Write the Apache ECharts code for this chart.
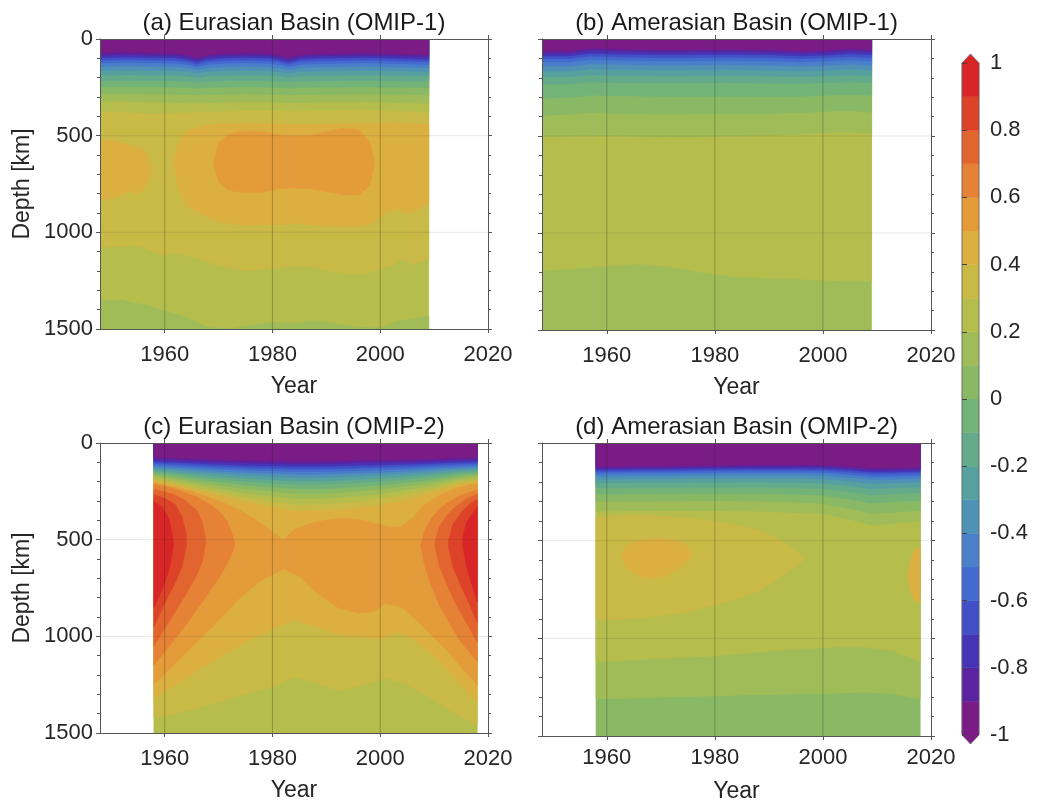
<!DOCTYPE html>
<html><head><meta charset="utf-8">
<script src="https://cdn.jsdelivr.net/npm/echarts@6/dist/echarts.min.js"></script>
<style>html,body{margin:0;padding:0;background:#fff;}#c{width:1037px;height:809px;}</style>
</head><body><div id="c"></div>
<script>
// ---------- colour scale: 20 bins of 0.1 from -1 to 1 ----------
const binColors = ['#7b1b86','#5b23a0','#4634b5','#4150c6','#4469cf','#4a80ca','#4f92b6','#57a0a0','#63ab8b','#74b378',
                   '#89b965','#a0bc58','#b5bd4d','#c9b946','#dbb041','#e49c3a','#e58235','#e2652f','#dd4329','#d82628'];
const cbTicks = [-1,-0.8,-0.6,-0.4,-0.2,0,0.2,0.4,0.6,0.8,1];
const yearTicks = [1960,1980,2000,2020];
const gridYears = [1960,1980,2000];
const gridDepths = [500,1000];
const titles = ['(a) Eurasian Basin (OMIP-1)','(b) Amerasian Basin (OMIP-1)','(c) Eurasian Basin (OMIP-2)','(d) Amerasian Basin (OMIP-2)'];

// ---------- panel a : isolines [level, [[year, depth]...]] and bands [value, [[year, top, bottom]...]] ----------
const aYears = [1948,1953,1958,1962,1964,1966,1968,1971,1975,1979,1981,1983,1985,1988,1992,1997,2001,2005,2009];
const aIsoDepths = [
 [-0.9,[72,69,72,75,82,98,82,75,72,75,82,98,82,77,75,72,75,79,82]],
 [-0.8,[84,82,84,87,94,109,94,87,84,87,94,109,94,89,87,84,87,90,94]],
 [-0.7,[96,94,96,98,105,119,105,98,96,98,105,119,105,101,98,96,98,102,105]],
 [-0.6,[109,107,109,111,117,130,117,111,109,111,117,130,117,113,111,109,111,114,117]],
 [-0.5,[124,122,124,126,132,143,132,126,124,126,132,143,132,128,126,124,126,129,132]],
 [-0.4,[142,140,142,144,148,158,148,144,142,144,148,158,148,145,144,142,144,146,148]],
 [-0.3,[163,162,163,164,168,176,168,164,163,164,168,176,168,166,164,163,164,166,168]],
 [-0.2,[187,186,187,188,191,198,191,188,187,188,191,198,191,189,188,187,188,190,191]],
 [-0.1,[215,214,215,216,219,224,219,216,215,216,219,224,219,217,216,215,216,217,219]],
 [0.0,[248,247,248,249,251,255,251,249,248,249,251,255,251,249,249,248,249,250,251]],
 [0.1,[285,284,285,286,287,290,287,286,285,286,287,290,287,286,286,285,286,286,287]],
 [0.2,[322,322,326,328,329,331,329,327,325,325,327,329,328,327,325,324,326,330,334]],
 [0.3,[372,378,385,380,379,378,376,373,368,368,370,372,371,370,368,366,370,374,380]]
];
const aBands = [
 [0.25,[[1948,0,1500],[2009,0,1500]]],
 [0.15,[[1948,1354,1500],[1952,1350,1500],[1956,1375,1500],[1960,1405,1500],[1964,1440,1500],[1968,1490,1500],[1972,1500,1500],[1976,1480,1500],[1980,1465,1500],[1984,1470,1500],[1988,1458,1500],[1992,1475,1500],[1996,1492,1500],[2000,1495,1500],[2003,1462,1500],[2006,1450,1500],[2009,1432,1500]]],
 [0.35,[[1948,0,1078],[1952,0,1072],[1955,0,1070],[1958,0,1100],[1960,0,1121],[1962,0,1105],[1966,0,1130],[1970,0,1173],[1975,0,1199],[1979,0,1190],[1982,0,1180],[1987,0,1173],[1990,0,1199],[1995,0,1216],[1998,0,1208],[2002,0,1173],[2004,0,1139],[2006,0,1165],[2009,0,1139]]],
 [0.45,[[1961.5,640,640],[1962.5,540,770],[1964,480,860],[1967,450,910],[1970,440,945],[1975,438,965],[1980,440,960],[1985,442,955],[1990,440,968],[1995,438,975],[1998,438,960],[2001,436,900],[2003,434,880],[2005,438,905],[2007,440,885],[2009,442,850]]],
 [0.45,[[1948,520,830],[1951,530,820],[1953,545,790],[1955,560,800],[1956.5,580,770],[1957.5,660,680]]],
 [0.55,[[1969,640,640],[1970,540,740],[1972,490,785],[1975,476,795],[1978,478,795],[1981,495,775],[1984,502,770],[1987,500,775],[1990,480,790],[1993,462,805],[1996,470,805],[1998,530,760],[1999,640,640]]]
];

// ---------- panel b ----------
const bIsolines = [
 [-0.9,[[1948,62],[1953,62],[1957,48],[1962,52],[1968,55],[1975,55],[1982,54],[1990,56],[1996,62],[2001,58],[2005,50],[2009,55]]],
 [-0.8,[[1948,74],[1953,74],[1957,60],[1962,64],[1968,67],[1975,67],[1982,66],[1990,68],[1996,74],[2001,70],[2005,62],[2009,67]]],
 [-0.7,[[1948,87],[1953,87],[1957,73],[1962,77],[1968,80],[1975,80],[1982,79],[1990,81],[1996,87],[2001,83],[2005,75],[2009,80]]],
 [-0.6,[[1948,101],[1953,101],[1957,88],[1962,92],[1968,95],[1975,95],[1982,94],[1990,96],[1996,101],[2001,97],[2005,90],[2009,95]]],
 [-0.5,[[1948,118],[1953,118],[1957,106],[1962,110],[1968,112],[1975,112],[1982,111],[1990,113],[1996,118],[2001,114],[2005,108],[2009,113]]],
 [-0.4,[[1948,140],[1953,140],[1957,128],[1962,132],[1968,134],[1975,134],[1982,133],[1990,135],[1996,139],[2001,136],[2005,130],[2009,135]]],
 [-0.3,[[1948,165],[1953,165],[1957,154],[1962,158],[1968,160],[1975,160],[1982,159],[1990,161],[1996,164],[2001,161],[2005,156],[2009,160]]],
 [-0.2,[[1948,195],[1953,195],[1957,185],[1962,188],[1968,190],[1975,190],[1982,189],[1990,191],[1996,193],[2001,190],[2005,186],[2009,190]]],
 [-0.1,[[1948,232],[1953,232],[1957,222],[1962,225],[1968,227],[1975,227],[1982,226],[1990,228],[1996,229],[2001,226],[2005,222],[2009,226]]],
 [0.0,[[1948,305],[1953,302],[1957,290],[1962,292],[1968,295],[1975,296],[1982,295],[1990,296],[1996,295],[2001,290],[2005,286],[2009,290]]],
 [0.1,[[1948,395],[1953,388],[1957,380],[1962,384],[1968,386],[1975,386],[1982,385],[1990,384],[1996,380],[2001,372],[2005,370],[2009,378]]],
 [0.2,[[1948,502],[1953,500],[1957,498],[1962,498],[1968,504],[1975,505],[1982,500],[1990,496],[1996,490],[2001,482],[2005,478],[2009,488]]]
];
const bBands = [
 [0.15,[[1948,0,1500],[2009,0,1500]]],
 [0.25,[[1948,0,1195],[1955,0,1180],[1960,0,1170],[1966,0,1158],[1972,0,1175],[1978,0,1205],[1984,0,1225],[1990,0,1232],[1996,0,1238],[2002,0,1245],[2009,0,1248]]]
];

// ---------- panel c ----------
const cYears = [1958,1962,1966,1970,1975,1980,1985,1990,1995,2000,2005,2010,2014,2018];
const cIsoDepths = [
 [-0.9,[75,78,82,86,90,92,95,93,90,88,86,82,78,76]],
 [-0.8,[86,90,95,99,104,106,109,107,104,101,98,94,90,87]],
 [-0.7,[96,101,106,111,116,119,122,120,117,114,110,105,100,97]],
 [-0.6,[105,111,117,122,128,131,135,133,130,126,121,115,110,106]],
 [-0.5,[114,121,128,134,140,144,149,147,143,139,133,126,120,115]],
 [-0.4,[123,131,139,146,153,158,163,161,157,152,145,137,129,124]],
 [-0.3,[131,141,150,158,167,173,179,177,172,166,158,148,139,132]],
 [-0.2,[140,151,162,172,183,190,197,195,189,182,172,160,149,141]],
 [-0.1,[148,161,174,186,199,208,216,214,207,199,187,173,159,149]],
 [0.0,[157,172,188,202,217,228,238,236,228,218,204,187,170,158]],
 [0.1,[165,183,202,219,237,250,262,260,251,239,222,202,181,167]],
 [0.2,[174,194,216,236,258,274,288,286,276,262,241,218,193,176]],
 [0.3,[183,205,230,254,280,300,318,315,303,287,262,235,205,186]],
 [0.4,[192,214,240,268,300,330,350,345,335,318,288,250,216,196]]
];
const cIso05 = [[1958,203],[1962,225],[1966,255],[1970,295],[1974,345],[1977,395],[1980,455],[1982,500],[1984,445],[1987,412],[1990,395],[1993,385],[1996,392],[1999,412],[2002,432],[2004,428],[2006,385],[2008,320],[2011,268],[2014,232],[2018,206]];
const cBands = [
 [0.25,[[1958,0,1500],[2018,0,1500]]],
 [0.35,[[1958,0,1420],[1962,0,1400],[1966,0,1370],[1970,0,1340],[1975,0,1300],[1980,0,1260],[1984,0,1210],[1988,0,1240],[1992,0,1280],[1996,0,1260],[2001,0,1215],[2005,0,1250],[2010,0,1330],[2014,0,1400],[2018,0,1460]]],
 [0.45,[[1958,0,1320],[1962,0,1250],[1966,0,1180],[1970,0,1110],[1975,0,1030],[1980,0,960],[1984,0,915],[1988,0,950],[1992,0,990],[1996,0,1000],[2000,0,1015],[2003,0,980],[2006,0,1010],[2010,0,1100],[2014,0,1220],[2018,0,1340]]],
 [0.55,[[1958,0,1250],[1962,0,1140],[1966,0,1030],[1970,0,920],[1974,0,800],[1978,0,710],[1982,0,650],[1985,0,690],[1988,0,770],[1992,0,850],[1996,0,880],[1999,0,870],[2001,0,830],[2004,0,850],[2008,0,950],[2012,0,1060],[2015,0,1160],[2018,0,1250]]],
 [0.65,[[1958,215,1150],[1960,225,1080],[1962,240,1010],[1964,258,940],[1966,280,860],[1968,310,780],[1970,350,700],[1971.5,400,630],[1972.5,470,570],[1973,520,520]]],
 [0.75,[[1958,240,1050],[1960,252,960],[1962,270,870],[1964,300,780],[1966,350,680],[1967,410,610],[1967.6,500,520]]],
 [0.85,[[1958,268,950],[1960,285,830],[1962,320,720],[1963.2,380,640],[1964,470,540]]],
 [0.95,[[1958,303,850],[1959.5,330,760],[1960.8,390,660],[1961.6,500,540]]],
 [0.65,[[2007.5,530,530],[2008.3,450,640],[2009.5,390,740],[2011,340,840],[2013,300,940],[2015,270,1030],[2018,240,1130]]],
 [0.75,[[2010.2,510,540],[2011,430,640],[2012.5,370,740],[2014,330,830],[2016,290,930],[2018,265,1030]]],
 [0.85,[[2012.7,500,540],[2013.5,420,640],[2015,360,740],[2016.5,320,830],[2018,290,930]]],
 [0.95,[[2015.3,490,530],[2016,410,640],[2017,370,730],[2018,330,820]]]
];

// ---------- panel d ----------
const dIsolines = [
 [-0.9,[[1958,121],[1964,119],[1970,118],[1976,116],[1982,114],[1988,112],[1994,112],[2000,113],[2005,120],[2009,128],[2013,128],[2018,125]]],
 [-0.8,[[1958,130],[1964,128],[1970,127],[1976,125],[1982,123],[1988,121],[1994,121],[2000,122],[2005,130],[2009,138],[2013,138],[2018,135]]],
 [-0.7,[[1958,138],[1964,136],[1970,135],[1976,133],[1982,131],[1988,130],[1994,130],[2000,131],[2005,139],[2009,148],[2013,148],[2018,145]]],
 [-0.6,[[1958,147],[1964,145],[1970,144],[1976,142],[1982,140],[1988,139],[1994,139],[2000,141],[2005,150],[2009,159],[2013,158],[2018,155]]],
 [-0.5,[[1958,157],[1964,155],[1970,154],[1976,152],[1982,151],[1988,150],[1994,150],[2000,152],[2005,162],[2009,171],[2013,170],[2018,167]]],
 [-0.4,[[1958,170],[1964,168],[1970,167],[1976,165],[1982,164],[1988,163],[1994,163],[2000,165],[2005,176],[2009,186],[2013,185],[2018,182]]],
 [-0.3,[[1958,186],[1964,184],[1970,183],[1976,181],[1982,181],[1988,180],[1994,181],[2000,184],[2005,196],[2009,207],[2013,205],[2018,200]]],
 [-0.2,[[1958,205],[1964,204],[1970,203],[1976,201],[1982,201],[1988,200],[1994,202],[2000,206],[2005,220],[2009,234],[2013,230],[2018,225]]],
 [-0.1,[[1958,230],[1964,229],[1970,228],[1976,227],[1982,227],[1988,227],[1994,229],[2000,234],[2005,250],[2009,266],[2013,260],[2018,255]]],
 [0.0,[[1958,262],[1964,261],[1970,260],[1976,259],[1982,259],[1988,259],[1994,262],[2000,268],[2005,288],[2009,308],[2013,300],[2018,295]]],
 [0.1,[[1958,300],[1964,299],[1970,298],[1976,297],[1982,297],[1988,298],[1994,302],[2000,310],[2005,335],[2009,362],[2013,355],[2018,345]]],
 [0.2,[[1958,350],[1964,346],[1970,345],[1976,345],[1982,346],[1988,350],[1994,355],[2000,362],[2005,390],[2009,420],[2013,412],[2018,400]]]
];
const dBands = [
 [0.05,[[1958,0,1500],[2018,0,1500]]],
 [0.15,[[1958,0,1310],[1965,0,1305],[1972,0,1300],[1980,0,1295],[1988,0,1288],[1995,0,1285],[2002,0,1282],[2008,0,1275],[2013,0,1285],[2018,0,1310]]],
 [0.25,[[1958,0,1120],[1965,0,1110],[1972,0,1100],[1980,0,1090],[1988,0,1070],[1995,0,1055],[2002,0,1045],[2008,0,1045],[2013,0,1065],[2018,0,1120]]],
 [0.35,[[1958,380,905],[1962,372,905],[1966,370,895],[1970,375,885],[1975,385,865],[1980,400,830],[1985,425,790],[1988,445,760],[1991,480,710],[1994,530,650],[1996.5,585,600]]],
 [0.45,[[1962.5,580,580],[1964,520,650],[1967,495,695],[1970,488,690],[1973,500,650],[1975,530,600],[1976,565,565]]],
 [0.45,[[2015.7,680,680],[2016.3,590,770],[2017,545,805],[2018,530,820]]]
];

// ---------- build ----------
const FONT = '"Liberation Sans", Arial, Helvetica, sans-serif';
const TXT = '#262626';
function colorOf(v){ let i = Math.floor((v + 1) * 10 + 1e-6); i = Math.max(0, Math.min(19, i)); return binColors[i]; }
function pairsFrom(years, rows){ return rows.map(r => [r[0], years.map((y, k) => [y, r[1][k]])]); }
function buildLayers(bands, isolines){
  const layers = bands.map(b => ({v: b[0], pts: b[1]}));
  const iso = isolines.slice().sort((p, q) => q[0] - p[0]);
  iso.forEach(l => layers.push({v: l[0] - 0.05, pts: l[1].map(p => [p[0], 0, p[1]])}));
  return layers;
}
const aIsolines = pairsFrom(aYears, aIsoDepths);
const cIsolines = pairsFrom(cYears, cIsoDepths).concat([[0.5, cIso05]]);
const panels = [buildLayers(aBands, aIsolines), buildLayers(bBands, bIsolines), buildLayers(cBands, cIsolines), buildLayers(dBands, dIsolines)];
const grids = [
  {left:100, top:39, width:388, height:290},
  {left:542, top:39, width:389, height:291},
  {left:100, top:443, width:388, height:290},
  {left:542, top:443, width:389, height:293},
  {left:962, top:63, width:17, height:672}
];
const xAxes = [], yAxes = [], series = [], graphics = [];
const axisLineStyle = {color: '#555', width: 1};
panels.forEach((layers, g) => {
  const isLeft = (g % 2 === 0);
  xAxes.push({gridIndex:g, type:'value', min:1948, max:2020, position:'bottom', z:5,
    name:'Year', nameLocation:'middle', nameGap: g === 3 ? 44 : 46, nameTextStyle:{fontFamily:FONT, fontSize:23, color:TXT},
    axisLine:{show:true, onZero:false, lineStyle:axisLineStyle},
    axisTick:{show:true, inside:false, length:4, customValues:yearTicks, lineStyle:axisLineStyle},
    axisLabel:{show:true, customValues:yearTicks, margin: g === 3 ? 11 : 15, fontFamily:FONT, fontSize:22, color:TXT, formatter:v => String(v)},
    splitLine:{show:false}, minorTick:{show:false}});
  xAxes.push({gridIndex:g, type:'value', min:1948, max:2020, position:'top', z:5,
    axisLine:{show:true, onZero:false, lineStyle:axisLineStyle},
    axisTick:{show:true, inside:false, length:4, customValues:yearTicks, lineStyle:axisLineStyle},
    axisLabel:{show:false}, splitLine:{show:false}});
  yAxes.push({gridIndex:g, type:'value', min:0, max:1500, interval:500, inverse:true, position:'left', z:5,
    name: isLeft ? 'Depth [km]' : '', nameLocation:'middle', nameGap:66, nameRotate:90,
    nameTextStyle:{fontFamily:FONT, fontSize:23, color:TXT},
    axisLine:{show:true, onZero:false, lineStyle:axisLineStyle},
    axisTick:{show:true, inside:false, length:4, lineStyle:axisLineStyle},
    minorTick:{show:true, splitNumber:5, length:3, lineStyle:axisLineStyle},
    axisLabel:{show:isLeft, margin:7, fontFamily:FONT, fontSize:22, color:TXT, formatter:v => String(v)},
    splitLine:{show:false}});
  yAxes.push({gridIndex:g, type:'value', min:0, max:1500, interval:500, inverse:true, position:'right', z:5,
    axisLine:{show:true, onZero:false, lineStyle:axisLineStyle},
    axisTick:{show:true, inside:false, length:4, lineStyle:axisLineStyle},
    minorTick:{show:true, splitNumber:5, length:3, lineStyle:axisLineStyle},
    axisLabel:{show:false}, splitLine:{show:false}});
  series.push({type:'custom', coordinateSystem:'cartesian2d', xAxisIndex:2*g, yAxisIndex:2*g, z:2, silent:true, clip:true,
    data: layers.map((l, i) => [l.pts[0][0], 0, i]),
    renderItem: function(params, api){
      const L = layers[api.value(2)];
      const top = L.pts.map(p => api.coord([p[0], p[1]]));
      const bot = L.pts.map(p => api.coord([p[0], p[2]])).reverse();
      const col = colorOf(L.v);
      return {type:'polygon', shape:{points: top.concat(bot)}, style:{fill:col, stroke:col, lineWidth:0.6}};
    }});
  const gl = gridYears.map(y => ['v', y]).concat(gridDepths.map(d => ['h', d]));
  series.push({type:'custom', coordinateSystem:'cartesian2d', xAxisIndex:2*g, yAxisIndex:2*g, z:3, silent:true,
    data: gl.map((p, i) => [1960, 0, i]),
    renderItem: function(params, api){
      const p = gl[api.value(2)];
      let a, b, col;
      if (p[0] === 'v') { a = api.coord([p[1], 0]); b = api.coord([p[1], 1500]); col = 'rgba(30,30,30,0.28)'; }
      else { a = api.coord([1948, p[1]]); b = api.coord([2020, p[1]]); col = 'rgba(30,30,30,0.10)'; }
      return {type:'line', shape:{x1:a[0], y1:a[1], x2:b[0], y2:b[1]}, style:{stroke:col, lineWidth:1}};
    }});
  const gr = grids[g];
  graphics.push({type:'text', x: gr.left + gr.width / 2, y: gr.top - 16, style:{text: titles[g], fontFamily:FONT, fontSize:24, fill:'#1a1a1a', align:'center', verticalAlign:'middle'}});
});
// colour bar
xAxes.push({gridIndex:4, type:'value', min:0, max:1, show:false});
yAxes.push({gridIndex:4, type:'value', min:-1, max:1, interval:0.2, position:'right', z:5,
  axisLine:{show:false},
  axisTick:{show:true, inside:false, length:5, lineStyle:{color:'#444', width:1}},
  axisLabel:{show:true, margin:11, fontFamily:FONT, fontSize:22, color:TXT, formatter: v => String(+v.toFixed(1))},
  splitLine:{show:false}});
const cbItems = binColors.map((c, i) => [0, -1 + 0.1 * i, i]).concat([[0, 0, 20]]);
series.push({type:'custom', coordinateSystem:'cartesian2d', xAxisIndex:8, yAxisIndex:8, z:2, silent:true, clip:false,
  data: cbItems,
  renderItem: function(params, api){
    const i = api.value(2);
    const p0 = api.coord([0, -1]), p1 = api.coord([1, 1]);
    const xm = (p0[0] + p1[0]) / 2;
    if (i === 20) {
      return {type:'polygon', shape:{points:[[p0[0], p1[1]], [xm, p1[1] - 9], [p1[0], p1[1]], [p1[0], p0[1]], [xm, p0[1] + 9], [p0[0], p0[1]]]},
        style:{fill:'none', stroke:'#666', lineWidth:0.8}};
    }
    const lo = -1 + 0.1 * i;
    const a = api.coord([0, lo]), b = api.coord([1, lo + 0.1]);
    const children = [{type:'rect', shape:{x:a[0], y:b[1], width:b[0] - a[0], height:a[1] - b[1]}, style:{fill:binColors[i], stroke:binColors[i], lineWidth:0.5}}];
    if (i === 19) children.push({type:'polygon', shape:{points:[[a[0], b[1]], [xm, b[1] - 9], [b[0], b[1]]]}, style:{fill:binColors[i]}});
    if (i === 0) children.push({type:'polygon', shape:{points:[[a[0], a[1]], [xm, a[1] + 9], [b[0], a[1]]]}, style:{fill:binColors[i]}});
    return {type:'group', children: children};
  }});

const chart = echarts.init(document.getElementById('c'), null, {renderer:'canvas'});
chart.setOption({
  animation:false,
  backgroundColor:'#ffffff',
  grid: grids.map(g => Object.assign({outerBoundsMode:'none', containLabel:false}, g)),
  xAxis: xAxes, yAxis: yAxes, series: series, graphic: graphics
});
</script></body></html>
